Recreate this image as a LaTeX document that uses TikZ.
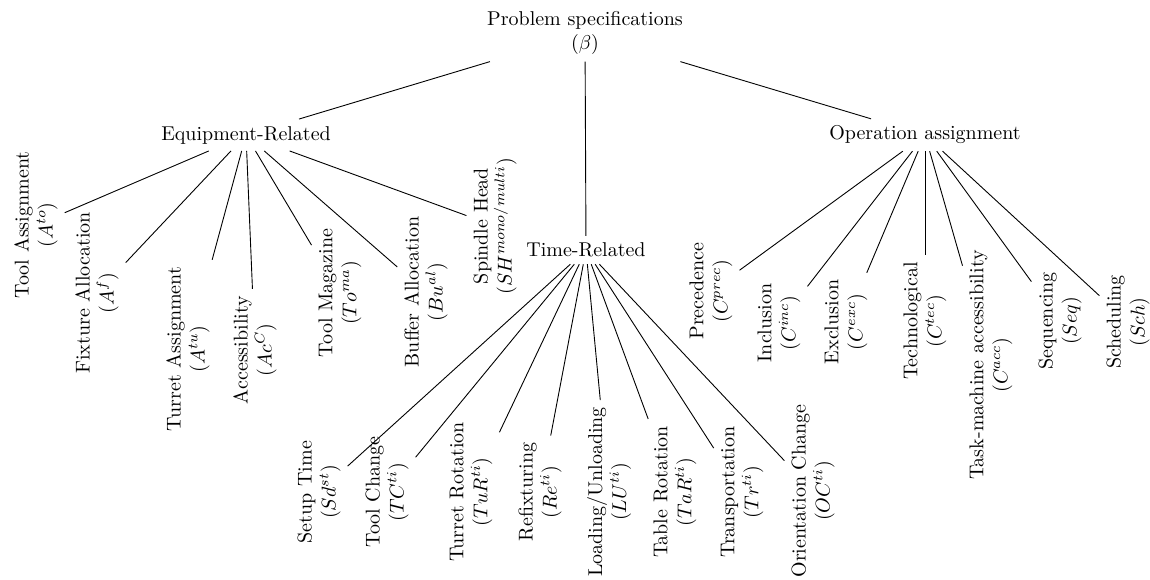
\documentclass[tikz,border=0pt]{standalone}
\usepackage{amsmath}
\begin{document}
\begin{tikzpicture}[x=0.5pt,y=-0.5pt,
  top/.style={align=center},
  leaf/.style={rotate=90,align=center},
  edge/.style={draw=black,line width=0.45pt}]
\useasboundingbox (0,0) rectangle (1150,579);
% root and categories
\node[top] (root) at (585,33) {Problem specifications\\$(\beta)$};
\node[top] (eq) at (246,135) {Equipment-Related};
\node[top] (tr) at (586,250) {Time-Related};
\node[top] (op) at (925,135) {Operation assignment};
% equipment children
\node[leaf] (e1) at (36,225) {Tool Assignment\\$(A^{to})$};
\node[leaf] (e2) at (97,293) {Fixture Allocation\\$(A^{f})$};
\node[leaf] (e3) at (188,349) {Turret Assignment\\$(A^{tu})$};
\node[leaf] (e4) at (255,350) {Accessibility\\$(Ac^{C})$};
\node[leaf] (e5) at (340,293) {Tool Magazine\\$(To^{ma})$};
\node[leaf] (e6) at (426,292) {Buffer Allocation\\$(Bu^{al})$};
\node[leaf] (e7) at (495,226) {Spindle Head\\$(SH^{mono/multi})$};
% time children
\node[leaf] (t1) at (319,492) {Setup Time\\$(Sd^{st})$};
\node[leaf] (t2) at (387,492) {Tool Change\\$(TC^{ti})$};
\node[leaf] (t3) at (471,492) {Turret Rotation\\$(TuR^{ti})$};
\node[leaf] (t4) at (540,492) {Refixturing\\$(Re^{ti})$};
\node[leaf] (t5) at (609,492) {Loading/Unloading\\$(LU^{ti})$};
\node[leaf] (t6) at (675,492) {Table Rotation\\$(TaR^{ti})$};
\node[leaf] (t7) at (742,492) {Transportation\\$(Tr^{ti})$};
\node[leaf] (t8) at (813,491) {Orientation Change\\$(OC^{ti})$};
% operation children
\node[leaf] (o1) at (711,291) {Precedence\\$(C^{prec})$};
\node[leaf] (o2) at (779,323) {Inclusion\\$(C^{inc})$};
\node[leaf] (o3) at (846,322) {Exclusion\\$(C^{exc})$};
\node[leaf] (o4) at (925,321) {Technological\\$(C^{tec})$};
\node[leaf] (o5) at (991,365) {Task-machine accessibility\\$(C^{acc})$};
\node[leaf] (o6) at (1060,321) {Sequencing\\$(Seq)$};
\node[leaf] (o7) at (1128,322) {Scheduling\\$(Sch)$};
% edges
\foreach \c in {eq,tr,op} \draw[edge] (root) -- (\c);
\foreach \c in {e1,e2,e3,e4,e5,e6,e7} \draw[edge] (eq) -- (\c);
\foreach \c in {t1,t2,t3,t4,t5,t6,t7,t8} \draw[edge] (tr) -- (\c);
\foreach \c in {o1,o2,o3,o4,o5,o6,o7} \draw[edge] (op) -- (\c);
\end{tikzpicture}
\end{document}
